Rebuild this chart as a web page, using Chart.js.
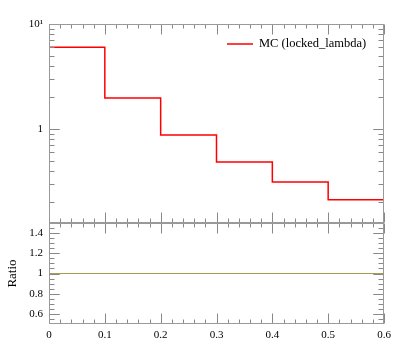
<!DOCTYPE html>
<html><head><meta charset="utf-8">
<script src="https://cdn.jsdelivr.net/npm/chart.js@4/dist/chart.umd.min.js"></script>
<style>
html,body{margin:0;padding:0;background:#fff;}
#wrap{position:relative;width:397px;height:358px;}
canvas{position:absolute;left:0;top:0;}
</style></head><body>
<div id="wrap"><canvas id="c1" width="397" height="358"></canvas><canvas id="c2" width="397" height="358"></canvas></div>
<script>
const binEdges = [0, 0.1, 0.2, 0.3, 0.4, 0.5, 0.6];
const mcValues = [6.0, 1.97, 0.877, 0.485, 0.313, 0.211];
const ratioValues = [1, 1, 1, 1, 1, 1];
const seriesLabel = 'MC (locked_lambda)';
const xTicks = [0, 0.1, 0.2, 0.3, 0.4, 0.5, 0.6];
const xTickLabels = ['0', '0.1', '0.2', '0.3', '0.4', '0.5', '0.6'];
const topYTicks = [1, 10];
const topYTickLabels = ['1', '10\u00B9'];
const ratioTicks = [0.6, 0.8, 1, 1.2, 1.4];
const ratioTickLabels = ['0.6', '0.8', '1', '1.2', '1.4'];
const yRatioTitle = 'Ratio';

const FONT = "'Liberation Serif', 'DejaVu Serif', serif";
const LINE_RED = 'rgb(255,0,0)';
const LINE_RATIO = 'rgb(160,160,80)';
const FRAME = '#999';
const TICK = '#888';

function stepPoints(vals) {
  const pts = vals.map((v, i) => ({x: binEdges[i], y: v}));
  pts.push({x: binEdges[binEdges.length - 1], y: vals[vals.length - 1]});
  return pts;
}

function xMinor() { const r = []; for (let i = 0; i <= 30; i++) r.push(i * 0.02); return r; }
function logMinor(min, max) {
  const r = [];
  for (let d = -2; d <= 1; d++) for (let m = 1; m <= 9; m++) { const v = m * Math.pow(10, d); if (v > min && v < max) r.push(v); }
  return r;
}
function ratioMinor() { const r = []; for (let i = 10; i <= 30; i++) r.push(i * 0.05); return r; }

function drawFrameTicks(chart, yMajor, yMinor) {
  const ctx = chart.ctx, a = chart.chartArea, xs = chart.scales.x, ys = chart.scales.y;
  ctx.save();
  ctx.lineWidth = 1;
  ctx.strokeStyle = TICK;
  const L = Math.round(a.left) + 0.5, R = Math.round(a.right) - 0.5, T = Math.round(a.top) + 0.5, B = Math.round(a.bottom) - 0.5;
  ctx.beginPath();
  const isMaj = (v, arr) => arr.some(m => Math.abs(m - v) < 1e-9);
  xMinor().forEach(v => {
    const px = Math.round(xs.getPixelForValue(v)) + 0.5;
    const len = isMaj(v, xTicks) ? 10 : 4;
    if (px < L || px > R + 1) return;
    ctx.moveTo(px, T); ctx.lineTo(px, T + len);
    ctx.moveTo(px, B); ctx.lineTo(px, B - len);
  });
  yMinor.concat(yMajor).forEach(v => {
    const py = Math.round(ys.getPixelForValue(v)) + 0.5;
    if (py < T || py > B) return;
    const len = isMaj(v, yMajor) ? 10 : 5;
    ctx.moveTo(L, py); ctx.lineTo(L + len, py);
    ctx.moveTo(R, py); ctx.lineTo(R - len, py);
  });
  ctx.stroke();
  ctx.strokeStyle = FRAME;
  ctx.strokeRect(L, T, R - L, B - T);
  ctx.restore();
}

const baseX = {
  type: 'linear', min: 0, max: 0.6,
  grid: {display: false, drawTicks: false}, border: {display: false},
  afterBuildTicks: s => { s.ticks = xTicks.map(v => ({value: v})); },
  ticks: {font: {family: FONT, size: 11}, color: '#000', padding: 5,
    callback: (v, i) => xTickLabels[i]}
};

new Chart(document.getElementById('c1'), {
  type: 'line',
  data: {datasets: [{label: seriesLabel, data: stepPoints(mcValues), stepped: 'before',
    borderColor: LINE_RED, borderWidth: 1.5, pointRadius: 0, fill: false}]},
  options: {
    responsive: false, animation: false, devicePixelRatio: 1,
    layout: {padding: {top: 24, bottom: 135, left: 0, right: 13}},
    plugins: {legend: {display: false}, tooltip: {enabled: false}},
    scales: {
      x: Object.assign({}, baseX, {display: false}),
      y: {type: 'logarithmic', min: 0.127, max: 10,
        grid: {display: false, drawTicks: false}, border: {display: false},
        afterFit: s => { s.width = 49; },
        afterBuildTicks: s => { s.ticks = topYTicks.map(v => ({value: v})); },
        ticks: {font: {family: FONT, size: 11}, color: '#000', padding: 6,
          callback: (v, i) => topYTickLabels[i]}}
    }
  },
  plugins: [{id: 'frame', afterDatasetsDraw(chart) {
    drawFrameTicks(chart, topYTicks, logMinor(0.127, 10));
    const ctx = chart.ctx;
    ctx.save();
    ctx.strokeStyle = LINE_RED; ctx.lineWidth = 1.5;
    ctx.beginPath(); ctx.moveTo(227, 44); ctx.lineTo(253, 44); ctx.stroke();
    ctx.fillStyle = '#000'; ctx.font = '12.5px ' + FONT; ctx.textBaseline = 'middle';
    ctx.fillText(chart.data.datasets[0].label, 259, 44);
    ctx.restore();
  }}]
});

new Chart(document.getElementById('c2'), {
  type: 'line',
  data: {datasets: [{label: 'Ratio', data: stepPoints(ratioValues), stepped: 'before',
    borderColor: LINE_RATIO, borderWidth: 1.2, pointRadius: 0, fill: false}]},
  options: {
    responsive: false, animation: false, devicePixelRatio: 1,
    layout: {padding: {top: 223, bottom: 0, left: 0, right: 13}},
    plugins: {legend: {display: false}, tooltip: {enabled: false}},
    scales: {
      x: Object.assign({}, baseX, {afterFit: s => { s.height = 34; }}),
      y: {type: 'linear', min: 0.5, max: 1.5,
        grid: {display: false, drawTicks: false}, border: {display: false},
        afterFit: s => { s.width = 49; },
        afterBuildTicks: s => { s.ticks = ratioTicks.map(v => ({value: v})); },
        title: {display: true, text: yRatioTitle, font: {family: FONT, size: 13}, color: '#000', padding: {top: 5, bottom: 0}},
        ticks: {font: {family: FONT, size: 11}, color: '#000', padding: 6,
          callback: (v, i) => ratioTickLabels[i]}}
    }
  },
  plugins: [{id: 'frame2', afterDatasetsDraw(chart) {
    drawFrameTicks(chart, ratioTicks, ratioMinor());
  }}]
});
</script>
</body></html>
